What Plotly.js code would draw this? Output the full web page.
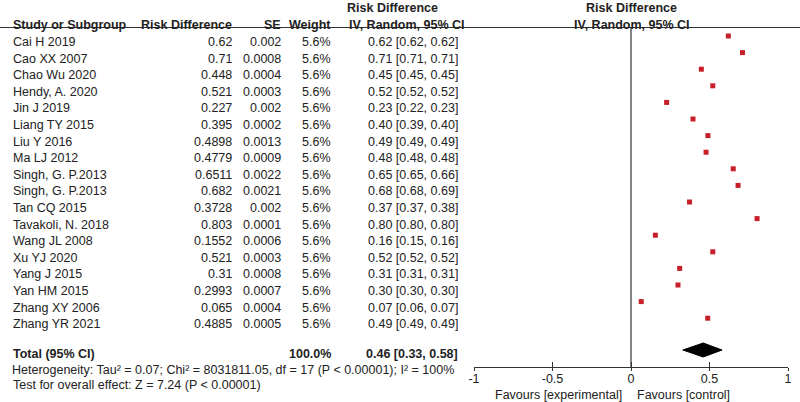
<!DOCTYPE html>
<html>
<head>
<meta charset="utf-8">
<script src="https://cdn.plot.ly/plotly-3.0.1.min.js"></script>
<style>
  body { margin: 0; background: #fff; }
  #forest { width: 800px; height: 402px; }
</style>
</head>
<body>
<div id="forest"></div>
<script>
// study data
const studies = ['Cai H 2019', 'Cao XX 2007', 'Chao Wu 2020', 'Hendy, A. 2020', 'Jin J 2019',
    'Liang TY 2015', 'Liu Y 2016', 'Ma LJ 2012', 'Singh, G. P.2013', 'Singh, G. P.2013',
    'Tan CQ 2015', 'Tavakoli, N. 2018', 'Wang JL 2008', 'Xu YJ 2020', 'Yang J 2015',
    'Yan HM 2015', 'Zhang XY 2006', 'Zhang YR 2021'];
const riskDiff = [0.62, 0.71, 0.448, 0.521, 0.227, 0.395, 0.4898, 0.4779, 0.6511, 0.682,
    0.3728, 0.803, 0.1552, 0.521, 0.31, 0.2993, 0.065, 0.4885];
const seVals = [0.002, 0.0008, 0.0004, 0.0003, 0.002, 0.0002, 0.0013, 0.0009, 0.0022, 0.0021,
    0.002, 0.0001, 0.0006, 0.0003, 0.0008, 0.0007, 0.0004, 0.0005];
const weights = [5.6, 5.6, 5.6, 5.6, 5.6, 5.6, 5.6, 5.6, 5.6, 5.6, 5.6, 5.6, 5.6, 5.6, 5.6, 5.6, 5.6, 5.6];
const ciLow = ['0.62', '0.71', '0.45', '0.52', '0.22', '0.39', '0.49', '0.48', '0.65', '0.68',
    '0.37', '0.80', '0.15', '0.52', '0.31', '0.30', '0.06', '0.49'];
const ciHigh = ['0.62', '0.71', '0.45', '0.52', '0.23', '0.40', '0.49', '0.48', '0.66', '0.69',
    '0.38', '0.80', '0.16', '0.52', '0.31', '0.30', '0.07', '0.49'];

// pooled result
const totalEst = 0.46;
const totalLow = 0.33;
const totalHigh = 0.58;
const totalWeight = '100.0%';

const axisTicks = [-1, -0.5, 0, 0.5, 1];
const axisTickText = ['-1', '-0.5', '0', '0.5', '1'];

// layout helpers: rows are 16.6px apart, first marker at 36px
const rowPx = 16.6;
const firstPx = 36;
const rowOf = function (px) { return (px - firstPx) / rowPx; };
// annotation boxes include descenders, so push text a bit lower
const textRow = function (px) { return rowOf(px + 2); };
const font = { family: 'Liberation Sans, Arial, sans-serif', size: 12.5, color: '#222' };

const rows = studies.map((s, i) => i);

let annotations = [];
function txt(x, y, text, anchor) {
    annotations.push({
        xref: 'x2', yref: 'y', x: x, y: y, text: text,
        xanchor: anchor, yanchor: 'middle', showarrow: false, font: font,
    });
}

// headers
txt(11, textRow(22.7), '<b>Study or Subgroup</b>', 'left');
txt(234, textRow(22.7), '<b>Risk Difference</b>', 'right');
txt(283, textRow(22.7), '<b>SE</b>', 'right');
txt(333, textRow(22.7), '<b>Weight</b>', 'right');
txt(392, textRow(6), '<b>Risk Difference</b>', 'center');
txt(407, textRow(22.7), '<b>IV, Random, 95% CI</b>', 'center');
txt(631, textRow(6), '<b>Risk Difference</b>', 'center');
txt(632, textRow(22.7), '<b>IV, Random, 95% CI</b>', 'center');

// study rows
rows.forEach(function (r) {
    let y = textRow(40 + r * rowPx);
    txt(11, y, studies[r], 'left');
    txt(234, y, String(riskDiff[r]), 'right');
    txt(283, y, String(seVals[r]), 'right');
    txt(333, y, weights[r].toFixed(1) + '%', 'right');
    txt(460, y, riskDiff[r].toFixed(2) + ' [' + ciLow[r] + ', ' + ciHigh[r] + ']', 'right');
});

// totals and footer
txt(11, textRow(351.7), '<b>Total (95% CI)</b>', 'left');
txt(333, textRow(351.7), '<b>' + totalWeight + '</b>', 'right');
txt(460, textRow(351.7), '<b>' + totalEst.toFixed(2) + ' [' + totalLow.toFixed(2) + ', ' + totalHigh.toFixed(2) + ']</b>', 'right');
txt(10, textRow(367.7), 'Heterogeneity: Tau² = 0.07; Chi² = 8031811.05, df = 17 (P < 0.00001); I² = 100%', 'left');
txt(11, textRow(382.7), 'Test for overall effect: Z = 7.24 (P < 0.00001)', 'left');

// favours labels, on the forest axis
annotations.push({ xref: 'x', yref: 'y', x: 0, y: rowOf(394.5), xshift: -8, text: 'Favours [experimental]',
    xanchor: 'right', yanchor: 'middle', showarrow: false, font: font, borderpad: 0 });
annotations.push({ xref: 'x', yref: 'y', x: 0, y: rowOf(394.5), xshift: 5, text: 'Favours [control]',
    xanchor: 'left', yanchor: 'middle', showarrow: false, font: font, borderpad: 0 });

const diamondRow = rowOf(350);
const diamondHalf = 7 / rowPx;

const data = [{
    x: riskDiff,
    y: rows,
    xaxis: 'x', yaxis: 'y',
    mode: 'markers',
    type: 'scatter',
    marker: { symbol: 'square', size: 5, color: '#c81e28' },
    cliponaxis: false,
    hoverinfo: 'skip',
}, {
    x: [totalLow, totalEst, totalHigh, totalEst, totalLow],
    y: [diamondRow, diamondRow - diamondHalf, diamondRow, diamondRow + diamondHalf, diamondRow],
    xaxis: 'x', yaxis: 'y',
    mode: 'lines',
    type: 'scatter',
    fill: 'toself',
    fillcolor: '#000',
    line: { color: '#000', width: 1 },
    hoverinfo: 'skip',
}, {
    x: [null], y: [null], xaxis: 'x2', yaxis: 'y', mode: 'markers', type: 'scatter', hoverinfo: 'skip',
}, {
    x: [null], y: [null], xaxis: 'x3', yaxis: 'y', mode: 'markers', type: 'scatter', hoverinfo: 'skip',
}];

const axisPos = (402 - 367) / 402;

const layout = {
    width: 800,
    height: 402,
    margin: { l: 0, r: 0, t: 0, b: 0, pad: 0 },
    paper_bgcolor: '#fff',
    plot_bgcolor: 'rgba(0,0,0,0)',
    showlegend: false,
    font: font,
    xaxis: {
        domain: [474 / 800, 788 / 800],
        range: [-1, 1],
        anchor: 'free',
        position: axisPos,
        showline: true,
        linecolor: '#333',
        linewidth: 1,
        ticks: 'outside',
        ticklen: 3,
        tickcolor: '#333',
        tickvals: axisTicks,
        ticktext: axisTickText,
        tickfont: font,
        ticklabelstandoff: -3,
        showgrid: false,
        zeroline: false,
    },
    xaxis3: {
        matches: 'x',
        overlaying: 'x',
        anchor: 'free',
        position: axisPos,
        ticks: 'inside',
        ticklen: 5,
        tickcolor: '#333',
        tickvals: axisTicks,
        showticklabels: false,
        showline: false,
        showgrid: false,
        zeroline: false,
    },
    xaxis2: {
        domain: [0, 1],
        range: [0, 800],
        anchor: 'y',
        visible: false,
    },
    yaxis: {
        domain: [0, 1],
        range: [rowOf(402), rowOf(0)],
        visible: false,
    },
    shapes: [{
        type: 'line', xref: 'paper', yref: 'y',
        x0: 0, x1: 1, y0: rowOf(27.5), y1: rowOf(27.5),
        line: { color: '#333', width: 1.2 },
    }, {
        type: 'line', xref: 'x', yref: 'y',
        x0: 0, x1: 0, y0: rowOf(27.5), y1: rowOf(367),
        line: { color: '#333', width: 1.2 },
        layer: 'below',
    }],
    annotations: annotations,
};

const config = { staticPlot: true, displayModeBar: false };

Plotly.newPlot('forest', data, layout, config);
</script>
</body>
</html>
